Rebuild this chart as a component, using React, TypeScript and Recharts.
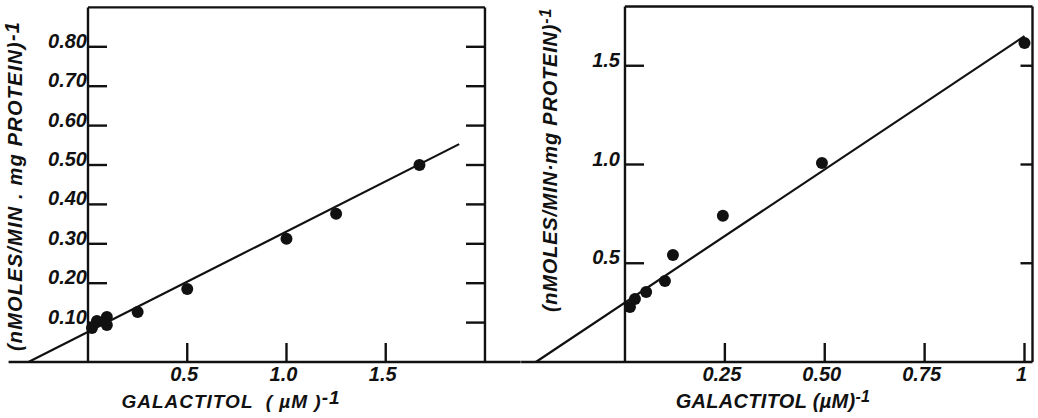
import { ComposedChart, Scatter, Line, XAxis, YAxis, ReferenceLine } from 'recharts';

// left panel: measured points
const leftX = [0.02, 0.045, 0.095, 0.095, 0.25, 0.5, 1.0, 1.25, 1.67];
const leftY = [0.086, 0.104, 0.114, 0.094, 0.127, 0.185, 0.313, 0.376, 0.5];
// fitted line end points
const leftFitX = [-0.3, 1.87];
const leftFitY = [0, 0.553];
const leftXTicks = [0.5, 1.0, 1.5];
const leftXLabels = ['0.5', '1.0', '1.5'];
const leftTopTicks = [0.5, 1.5];
const leftYTicks = [0.1, 0.2, 0.3, 0.4, 0.5, 0.6, 0.7, 0.8];
const leftYLabels = ['0.10', '0.20', '0.30', '0.40', '0.50', '0.60', '0.70', '0.80'];

// right panel
const rightX = [0.0125, 0.025, 0.053, 0.1, 0.12, 0.245, 0.493, 1.0];
const rightY = [0.278, 0.319, 0.354, 0.41, 0.542, 0.74, 1.008, 1.615];
const rightFitX = [-0.223, 1.0];
const rightFitY = [0, 1.65];
const rightXTicks = [0.25, 0.5, 0.75, 1.0];
const rightXLabels = ['0.25', '0.50', '0.75', '1'];
const rightTopTicks = [0.25, 0.5, 0.75, 1.0];
const rightYTicks = [0.5, 1.0, 1.5];
const rightYLabels = ['0.5', '1.0', '1.5'];

const FONT = "'Liberation Sans', Arial, sans-serif";
const INK = '#111';
const SW = 2.4;

const tickText = {
  fontFamily: FONT,
  fontStyle: 'italic' as const,
  fontWeight: 'bold' as const,
  fill: INK,
};

type PanelCfg = {
  left: number;
  width: number;
  margin: { top: number; right: number; bottom: number; left: number };
  xs: number[];
  ys: number[];
  fitX: number[];
  fitY: number[];
  xDomain: [number, number];
  yDomain: [number, number];
  boxRight: number;
  xTicks: number[];
  xLabels: string[];
  topTicks: number[];
  yTicks: number[];
  yLabels: string[];
  rightTick: number;
  yLabelGap: number;
  fontSize: number;
};

function Panel({ cfg }: { cfg: PanelCfg }) {
  const points = cfg.xs.map((x, i) => ({ x, y: cfg.ys[i] }));
  const fit = cfg.fitX.map((x, i) => ({ x, y: cfg.fitY[i] }));
  const top = cfg.yDomain[1];

  const bottomTick = (p: any) => {
    const i = cfg.xTicks.indexOf(p.payload.value);
    return (
      <g>
        <line x1={p.x} y1={p.y} x2={p.x} y2={p.y - 19} stroke={INK} strokeWidth={SW} />
        <text x={p.x - 3} y={p.y + 19} textAnchor="middle" fontSize={cfg.fontSize} {...tickText}>
          {cfg.xLabels[i]}
        </text>
      </g>
    );
  };

  const topTick = (p: any) => (
    <line x1={p.x} y1={p.y} x2={p.x} y2={p.y + 20} stroke={INK} strokeWidth={SW} />
  );

  return (
    <div style={{ position: 'absolute', left: cfg.left, top: 0 }}>
      <ComposedChart width={cfg.width} height={418} margin={cfg.margin}>
        <XAxis
          xAxisId="b"
          type="number"
          dataKey="x"
          domain={cfg.xDomain}
          ticks={cfg.xTicks}
          interval={0}
          height={30}
          tickSize={0}
          tickMargin={0}
          tickLine={false}
          axisLine={{ stroke: INK, strokeWidth: SW }}
          tick={bottomTick}
        />
        <XAxis
          xAxisId="t"
          orientation="top"
          type="number"
          dataKey="x"
          domain={cfg.xDomain}
          ticks={cfg.topTicks}
          interval={0}
          height={0}
          tickSize={0}
          tickMargin={0}
          tickLine={false}
          axisLine={false}
          tick={topTick}
        />
        <YAxis yAxisId="y" type="number" domain={cfg.yDomain} hide />

        {/* frame */}
        <ReferenceLine xAxisId="b" yAxisId="y" x={0} stroke={INK} strokeWidth={SW} />
        <ReferenceLine xAxisId="b" yAxisId="y" x={cfg.boxRight} stroke={INK} strokeWidth={SW} />
        <ReferenceLine
          xAxisId="b"
          yAxisId="y"
          segment={[{ x: 0, y: top }, { x: cfg.boxRight, y: top }]}
          stroke={INK}
          strokeWidth={SW}
        />

        {/* y ticks on both sides of the box */}
        {cfg.yTicks.map((v, i) => (
          <ReferenceLine
            key={v}
            xAxisId="b"
            yAxisId="y"
            segment={[{ x: 0, y: v }, { x: cfg.boxRight, y: v }]}
            shape={(p: any) => (
              <g>
                <line x1={p.x1} y1={p.y1} x2={p.x1 + 19} y2={p.y1} stroke={INK} strokeWidth={SW} />
                <line x1={p.x2 - cfg.rightTick} y1={p.y2} x2={p.x2} y2={p.y2} stroke={INK} strokeWidth={SW} />
                <text x={p.x1 - cfg.yLabelGap} y={p.y1 + 1} textAnchor="end" fontSize={cfg.fontSize} {...tickText}>
                  {cfg.yLabels[i]}
                </text>
              </g>
            )}
          />
        ))}

        <Line
          xAxisId="b"
          yAxisId="y"
          data={fit}
          dataKey="y"
          stroke={INK}
          strokeWidth={2.2}
          dot={false}
          activeDot={false}
          isAnimationActive={false}
        />
        <Scatter
          xAxisId="b"
          yAxisId="y"
          data={points}
          dataKey="y"
          isAnimationActive={false}
          shape={(p: any) => <circle cx={p.cx} cy={p.cy} r={6} fill={INK} />}
        />
      </ComposedChart>
    </div>
  );
}

const leftCfg: PanelCfg = {
  left: 0,
  width: 522,
  margin: { top: 7.4, right: 1.3, bottom: 26, left: 8.6 },
  xs: leftX,
  ys: leftY,
  fitX: leftFitX,
  fitY: leftFitY,
  xDomain: [-0.4, 2.18],
  yDomain: [0, 0.9],
  boxRight: 2.0,
  xTicks: leftXTicks,
  xLabels: leftXLabels,
  topTicks: leftTopTicks,
  yTicks: leftYTicks,
  yLabels: leftYLabels,
  rightTick: 19,
  yLabelGap: 1,
  fontSize: 20,
};

const rightCfg: PanelCfg = {
  left: 518,
  width: 520,
  margin: { top: 6.5, right: 5.5, bottom: 26, left: 3.1 },
  xs: rightX,
  ys: rightY,
  fitX: rightFitX,
  fitY: rightFitY,
  xDomain: [-0.26, 1.02],
  yDomain: [0, 1.8],
  boxRight: 1.02,
  xTicks: rightXTicks,
  xLabels: rightXLabels,
  topTicks: rightTopTicks,
  yTicks: rightYTicks,
  yLabels: rightYLabels,
  rightTick: 12,
  yLabelGap: 5,
  fontSize: 20,
};

const titleBase = {
  position: 'absolute' as const,
  fontFamily: FONT,
  fontStyle: 'italic' as const,
  fontWeight: 'bold' as const,
  color: INK,
  whiteSpace: 'pre' as const,
  textAlign: 'center' as const,
};

function VTitle({ cx, cy, len, size, spacing, children }: any) {
  return (
    <div
      style={{
        ...titleBase,
        left: cx - len / 2,
        top: cy - size / 2,
        width: len,
        height: size,
        lineHeight: `${size}px`,
        fontSize: size,
        letterSpacing: spacing,
        transform: 'rotate(-90deg)',
      }}
    >
      {children}
    </div>
  );
}

export default function App() {
  return (
    <div style={{ position: 'absolute', left: 0, top: 0, width: 1038, height: 418, background: '#fff', overflow: 'hidden' }}>
      <Panel cfg={leftCfg} />
      <Panel cfg={rightCfg} />

      <VTitle cx={15} cy={186} len={350} size={20} spacing={1.2}>
        (nMOLES/MIN . mg PROTEIN)<span style={{ position: 'relative', top: -3 }}>-1</span>
      </VTitle>
      <VTitle cx={550} cy={160} len={330} size={20} spacing={0.8}>
        (nMOLES/MIN·mg PROTEIN)<span style={{ position: 'relative', top: -6, fontSize: 16 }}>-1</span>
      </VTitle>

      <div style={{ ...titleBase, left: 100, top: 392, width: 262, fontSize: 19, lineHeight: '19px', letterSpacing: 1 }}>
        GALACTITOL  ( µM )<span style={{ position: 'relative', top: -4 }}>-1</span>
      </div>
      <div style={{ ...titleBase, left: 640, top: 391, width: 266, fontSize: 20, lineHeight: '20px', letterSpacing: 0.3 }}>
        GALACTITOL (µM)<span style={{ position: 'relative', top: -6, fontSize: 16 }}>-1</span>
      </div>
    </div>
  );
}
